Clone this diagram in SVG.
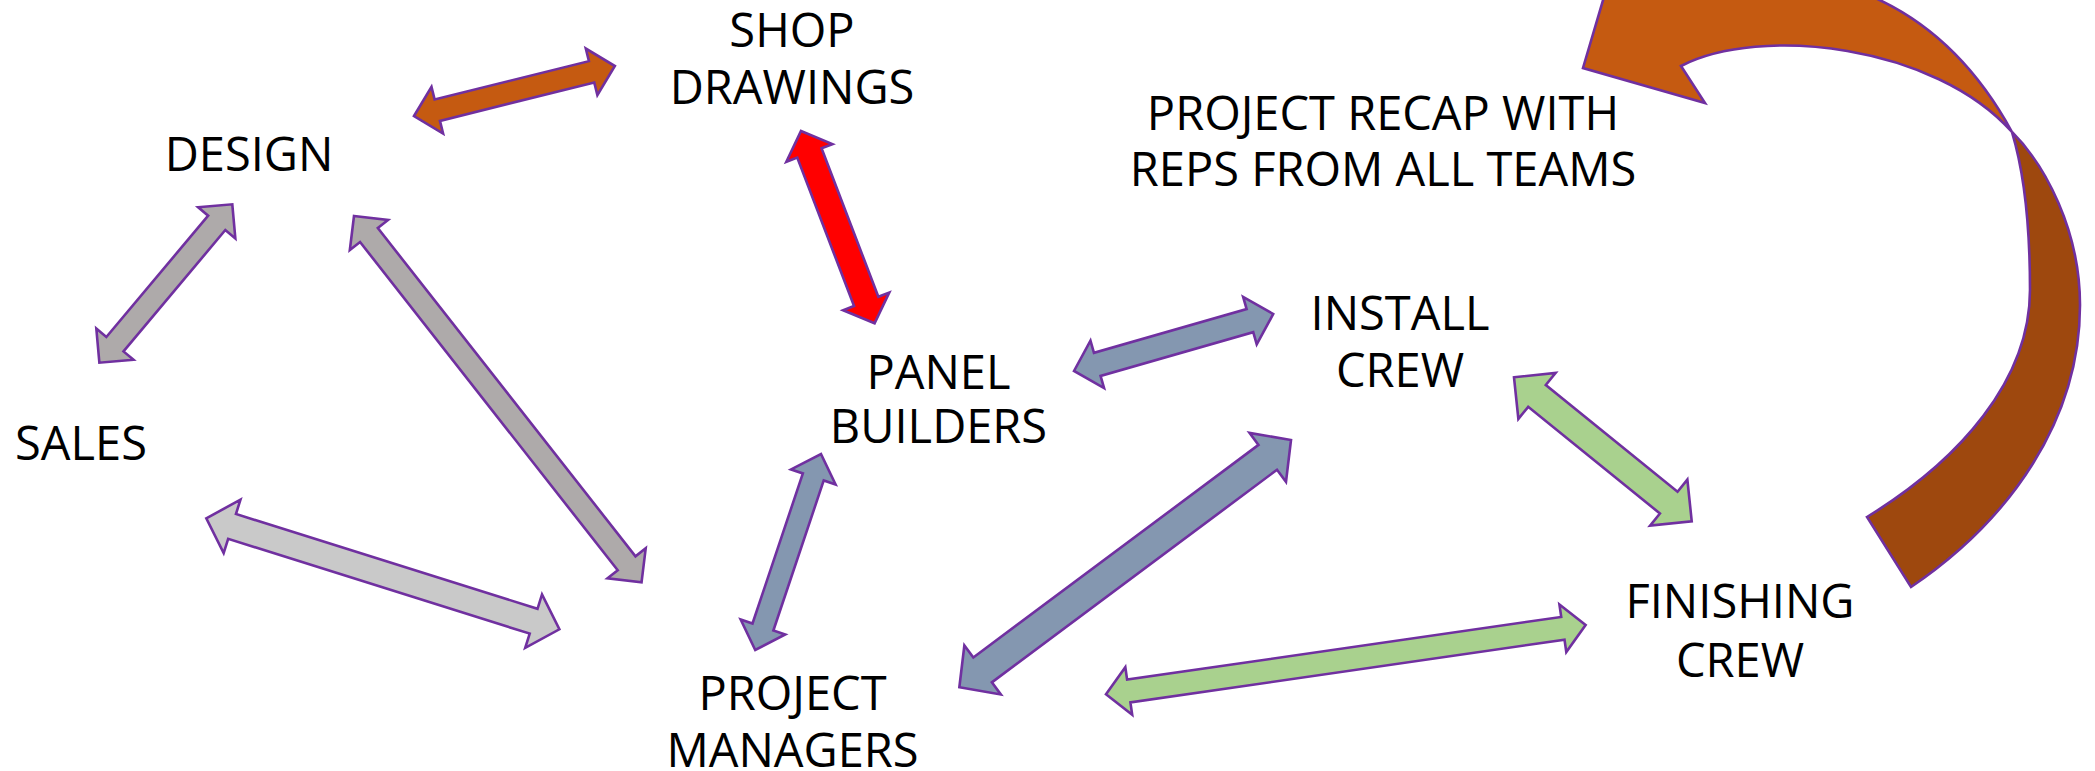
<svg xmlns="http://www.w3.org/2000/svg" width="2095" height="771" viewBox="0 0 2095 771">
<style>
.t{font-family:"Open Sans","Noto Sans","Liberation Sans",sans-serif;font-size:47px;fill:#000;text-anchor:middle}
.a{stroke:#7030A0;stroke-width:2.6;stroke-linejoin:miter}
.or{fill:#C55A11}.rd{fill:#FF0000}.gy{fill:#AEAAAA}.lg{fill:#C9C9C9}.bl{fill:#8497B0}.gn{fill:#A9D18E}.br{fill:#9E480E}
</style>
<rect width="2095" height="771" fill="#fff"/>
<g id="connectors">
  <!-- design <-> shop drawings -->
  <polygon class="a or" transform="translate(414,116) rotate(-13.97)" points="0,0 24,-24 24,-11 183,-11 183,-24 207,0 183,24 183,11 24,11 24,24"/>
  <!-- shop drawings <-> panel builders -->
  <polygon class="a rd" transform="translate(801,131) rotate(69.06)" points="0,0 23.5,-24.7 23.5,-13 182.4,-13 182.4,-24.7 205.9,0 182.4,24.7 182.4,13 23.5,13 23.5,24.7"/>
  <!-- design <-> sales -->
  <polygon class="a gy" transform="translate(232.3,204.3) rotate(130)" points="0,0 24.2,-24.3 24.2,-11.2 182.6,-11.2 182.6,-24.3 206.8,0 182.6,24.3 182.6,11.2 24.2,11.2 24.2,24.3"/>
  <!-- design <-> project managers -->
  <polygon class="a gy" transform="translate(354,216) rotate(51.87)" points="0,0 24.2,-24.3 24.2,-11.3 441.5,-11.3 441.5,-24.3 465.7,0 441.5,24.3 441.5,11.3 24.2,11.3 24.2,24.3"/>
  <!-- sales <-> project managers -->
  <polygon class="a lg" transform="translate(206.3,518.3) rotate(17.45)" points="0,0 27,-28 27,-13 343.1,-13 343.1,-28 370.1,0 343.1,28 343.1,13 27,13 27,28"/>
  <!-- panel builders <-> project managers -->
  <polygon class="a bl" transform="translate(821,454) rotate(108.55)" points="0,0 24.2,-23.5 24.2,-11 182.5,-11 182.5,-23.5 206.7,0 182.5,23.5 182.5,11 24.2,11 24.2,23.5"/>
  <!-- panel builders <-> install crew -->
  <polygon class="a bl" transform="translate(1074,371) rotate(-15.97)" points="0,0 24.2,-24.7 24.2,-12 183,-12 183,-24.7 207.2,0 183,24.7 183,12 24.2,12 24.2,24.7"/>
  <!-- install crew <-> project managers -->
  <polygon class="a bl" transform="translate(1291,440) rotate(143.29)" points="0,0 29,-30.5 29,-15.5 384.7,-15.5 384.7,-30.5 413.7,0 384.7,30.5 384.7,15.5 29,15.5 29,30.5"/>
  <!-- project managers <-> finishing crew -->
  <polygon class="a gn" transform="translate(1106,694.3) rotate(-8.22)" points="0,0 23,-24 23,-11.5 461.6,-11.5 461.6,-24 484.6,0 461.6,24 461.6,11.5 23,11.5 23,24"/>
  <!-- install crew <-> finishing crew -->
  <polygon class="a gn" transform="translate(1514,377.3) rotate(39)" points="0,0 29.6,-29.6 29.6,-14 199.1,-14 199.1,-29.6 228.7,0 199.1,29.6 199.1,14 29.6,14 29.6,29.6"/>
  <!-- project recap curved arrow -->
  <path class="a br" d="M2012,132 C2045,165 2080,230 2080,305 C2080,420 2010,520 1911,587 L1867,517 C1960,460 2030,380 2030,290 C2030,230 2025,175 2012,132 Z"/>
  <path class="a or" d="M1609,-20 L1583,68 L1705,103 L1681,66 C1760,25 1935,45 2012,132 C1970,55 1915,10 1850,-12 Z"/>
</g>
<g id="shop-drawings"><text class="t" x="792" y="47">SHOP</text><text class="t" x="792" y="104">DRAWINGS</text></g>
<g id="design"><text class="t" x="249" y="171">DESIGN</text></g>
<g id="sales"><text class="t" x="81" y="460">SALES</text></g>
<g id="panel-builders"><text class="t" x="938.5" y="389">PANEL</text><text class="t" x="938.5" y="443">BUILDERS</text></g>
<g id="install-crew"><text class="t" x="1400" y="330">INSTALL</text><text class="t" x="1400" y="387">CREW</text></g>
<g id="project-recap"><text class="t" x="1383" y="130">PROJECT RECAP WITH</text><text class="t" x="1383" y="186">REPS FROM ALL TEAMS</text></g>
<g id="finishing-crew"><text class="t" x="1740" y="618">FINISHING</text><text class="t" x="1740" y="677">CREW</text></g>
<g id="project-managers"><text class="t" x="792.5" y="710">PROJECT</text><text class="t" x="792.5" y="767">MANAGERS</text></g>
</svg>
